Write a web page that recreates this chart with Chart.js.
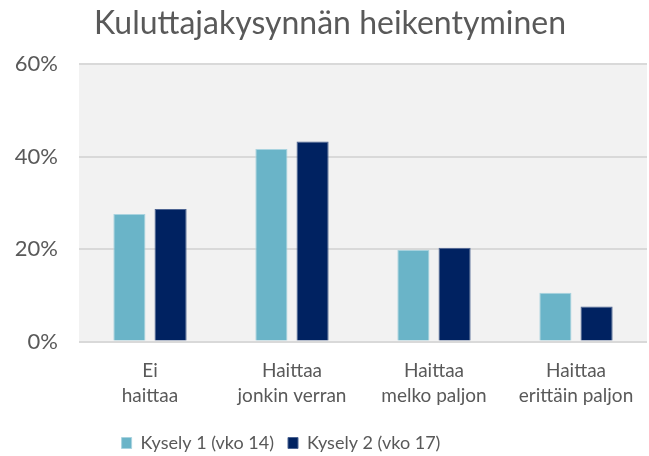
<!DOCTYPE html>
<html>
<head>
<meta charset="utf-8">
<script src="https://cdn.jsdelivr.net/npm/chart.js@4"></script>
<style>
    html, body { margin: 0; padding: 0; background: #ffffff; }
    #wrap { width: 649px; height: 456px; }
</style>
</head>
<body>
<div id="wrap"><canvas id="chart"></canvas></div>
<script>
// Chart data.
const title_text = "Kuluttajakysynnän heikentyminen";
const categories = [
    ["Ei", "haittaa"],
    ["Haittaa", "jonkin verran"],
    ["Haittaa", "melko paljon"],
    ["Haittaa", "erittäin paljon"],
];
const series_names = ["Kysely 1 (vko 14)", "Kysely 2 (vko 17)"];
const kysely1 = [27.6, 41.7, 19.9, 10.6];
const kysely2 = [28.7, 43.3, 20.3, 7.6];
const y_ticks = [0, 20, 40, 60];

const font_family = "Lato, 'Noto Sans', sans-serif";
const text_color = "#595959";

// Fill the plot area with light gray.
const plot_background = {
    id: "plot_background",
    beforeDraw(chart) {
        const area = chart.chartArea;
        const ctx = chart.ctx;
        ctx.save();
        ctx.fillStyle = "#F2F2F2";
        ctx.fillRect(area.left, area.top, area.right - area.left, area.bottom - area.top);
        ctx.restore();
    },
};

// Legend sits a bit left of center, like in the original.
const legend_shift = {
    id: "legend_shift",
    afterLayout(chart) {
        chart.legend.left -= 49;
        chart.legend.right -= 49;
    },
};

const ctx = document.getElementById("chart");

const data = {
    labels: categories,
    datasets: [
        {
            label: series_names[0],
            data: kysely1,
            backgroundColor: "#6AB4C8",
            borderColor: "#A9D3DF",
            borderWidth: 1,
            categoryPercentage: 0.58,
            barPercentage: 0.78,
        },
        {
            label: series_names[1],
            data: kysely2,
            backgroundColor: "#002261",
            borderColor: "#4D6492",
            borderWidth: 1,
            categoryPercentage: 0.58,
            barPercentage: 0.78,
        },
    ],
};

const config = {
    type: "bar",
    data: data,
    plugins: [plot_background, legend_shift],
    options: {
        responsive: true,
        maintainAspectRatio: false,
        animation: false,
        layout: {
            padding: { left: 13, right: 2, top: 2, bottom: -6 },
        },
        plugins: {
            title: {
                display: true,
                text: title_text,
                color: text_color,
                font: { family: font_family, size: 32, weight: "normal" },
                padding: { top: 2, bottom: 22 },
            },
            legend: {
                position: "bottom",
                labels: {
                    color: text_color,
                    font: { family: font_family, size: 18 },
                    boxWidth: 10,
                    boxHeight: 11,
                    padding: 14,
                },
            },
            tooltip: { enabled: false },
        },
        scales: {
            x: {
                grid: { display: false },
                border: { display: false },
                afterFit(axis) {
                    axis.height += 3;
                },
                ticks: {
                    color: text_color,
                    font: { family: font_family, size: 19, lineHeight: 1.3 },
                    maxRotation: 0,
                    padding: 9,
                },
            },
            y: {
                min: y_ticks[0],
                max: y_ticks[y_ticks.length - 1],
                afterBuildTicks(axis) {
                    axis.ticks = y_ticks.map(v => ({ value: v }));
                },
                afterFit(axis) {
                    axis.width = 66;
                },
                grid: { color: "#D9D9D9", lineWidth: 2, drawTicks: false },
                border: { display: false },
                ticks: {
                    color: text_color,
                    font: { family: font_family, size: 22 },
                    padding: 21,
                    callback: v => v + "%",
                },
            },
        },
    },
};

window.myChart = new Chart(ctx, config);
</script>
</body>
</html>
